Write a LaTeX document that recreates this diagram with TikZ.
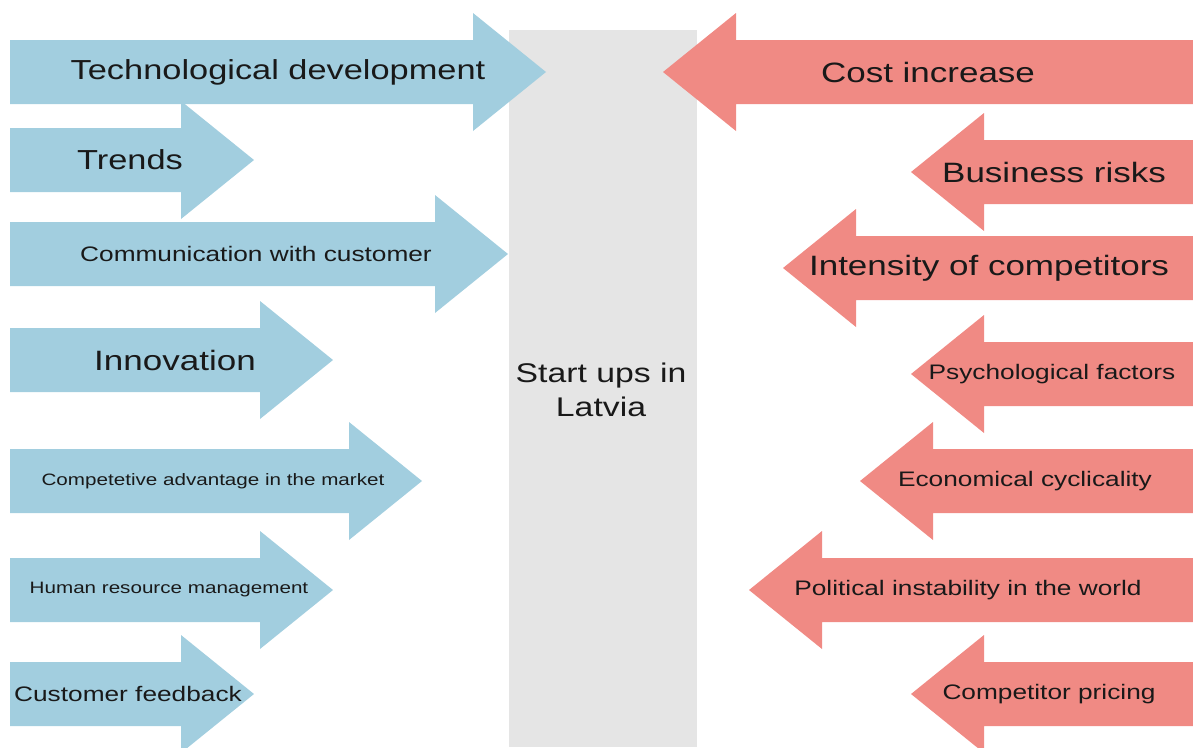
\documentclass[tikz,border=0pt]{standalone}
\usepackage{fontspec}
\setmainfont[FakeStretch=1.25]{Liberation Sans}
\definecolor{azul}{RGB}{162,206,223}
\definecolor{salmon}{RGB}{240,138,132}
\definecolor{gris}{RGB}{229,229,229}
\tikzset{
  rotulo/.style={inner sep=0pt, text=black!90}
}
\begin{document}
\begin{tikzpicture}[x=1pt, y=-1pt]
  \clip (0,0) rectangle (1193,747);
  % la columna central
  \fill[gris] (509,30) rectangle (697,747);
  \node[rotulo, align=center, font=\fontsize{27}{34}\selectfont] (centro) at (601,390) {Start ups in\\Latvia};
  % las flechas azules (centro, punta, texto, cuerpo)
  \foreach \y/\p/\tx/\s/\n/\txt in {
      72/546/278/27.5/tec/Technological development,
      160/254/130/27.5/ten/Trends,
      254/508/256/21/com/Communication with customer,
      360/333/175/28/inn/Innovation,
      481/422/213/16.5/ven/Competetive advantage in the market,
      590/333/169/16.5/rrhh/Human resource management,
      694/254/128/21/opi/Customer feedback} {
    \fill[azul] (10,\y-32) -- (\p-73,\y-32) -- (\p-73,\y-59) -- (\p,\y)
      -- (\p-73,\y+59) -- (\p-73,\y+32) -- (10,\y+32) -- cycle;
    \node[rotulo, font=\fontsize{\s}{\s}\selectfont] (\n) at (\tx,\y) {\txt};
  }
  % las flechas rojas
  \foreach \y/\p/\tx/\s/\n/\txt in {
      72/663/928/28/cos/Cost increase,
      172/911/1054/28/rie/Business risks,
      268/783/989/28/int/Intensity of competitors,
      374/911/1052/21/psi/Psychological factors,
      481/860/1025/21/cic/Economical cyclicality,
      590/749/968/21/pol/Political instability in the world,
      694/911/1049/21/pre/Competitor pricing} {
    \fill[salmon] (1193,\y-32) -- (\p+73,\y-32) -- (\p+73,\y-59) -- (\p,\y)
      -- (\p+73,\y+59) -- (\p+73,\y+32) -- (1193,\y+32) -- cycle;
    \node[rotulo, font=\fontsize{\s}{\s}\selectfont] (\n) at (\tx,\y) {\txt};
  }
\end{tikzpicture}
\end{document}
